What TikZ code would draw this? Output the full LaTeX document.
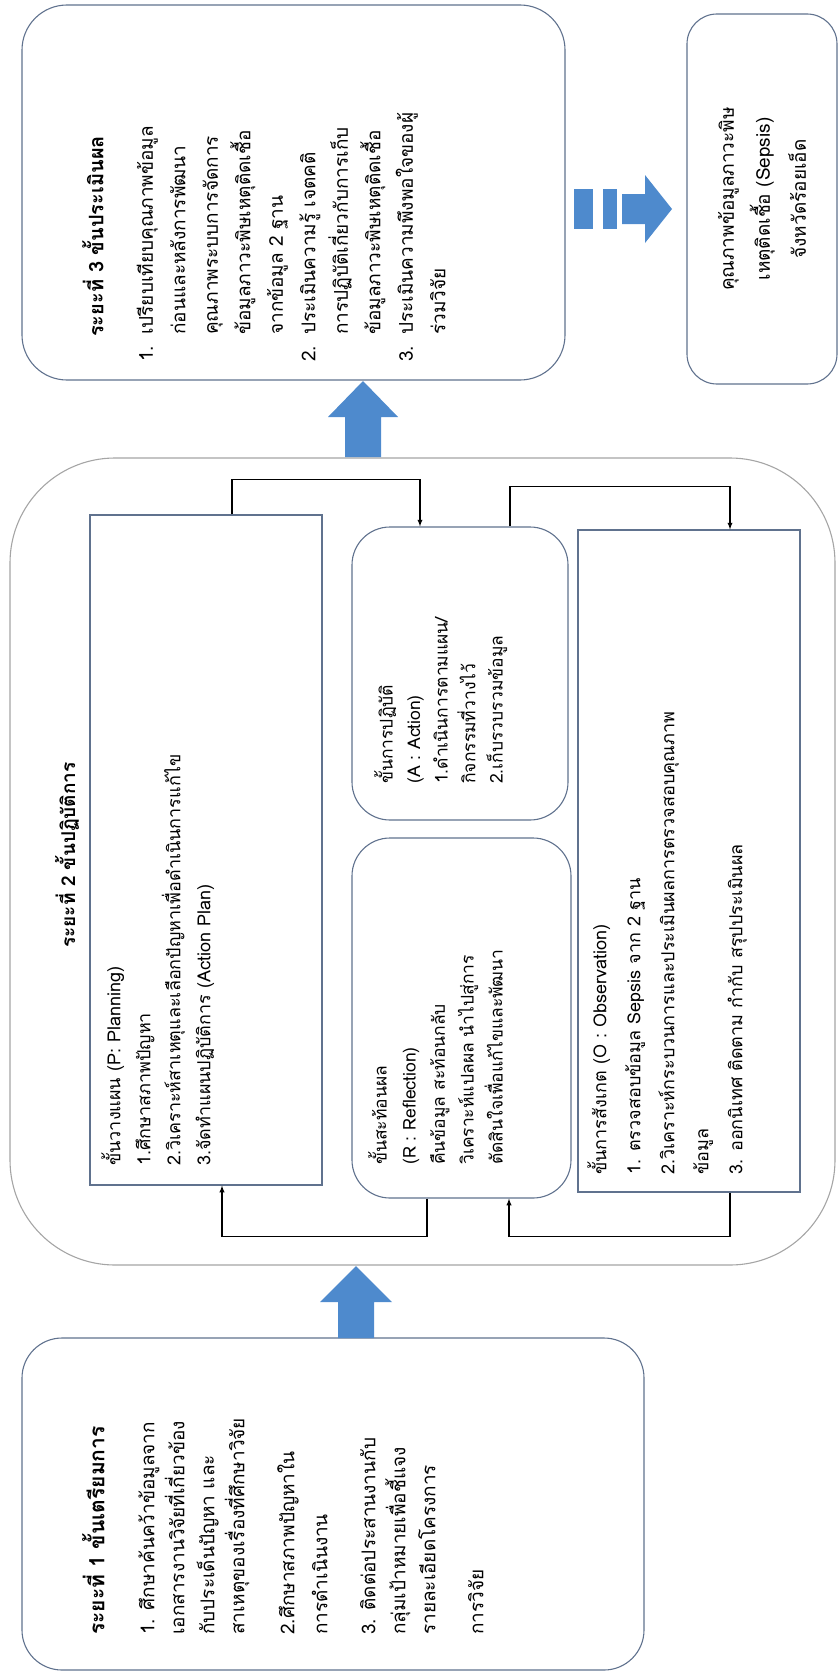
\documentclass[tikz,border=0pt]{standalone}
\usepackage{fontspec}
\setmainfont{Loma}[Script=Thai]
\usepackage{tikz}
\usetikzlibrary{positioning}

\definecolor{edge}{RGB}{96,114,142}
\definecolor{outer}{RGB}{165,165,165}
\definecolor{blockblue}{RGB}{78,138,205}

\begin{document}
\begin{tikzpicture}
        [x=1pt,y=-1pt,>=latex,
        rbox/.style={draw=edge,line width=1.1pt,inner sep=0pt},
        txt/.style={rotate=90,anchor=north west,align=left,inner sep=0pt,
            font=\fontsize{18}{30}\selectfont},
        head/.style={font=\bfseries\fontsize{20}{30}\selectfont},
        link/.style={->,line width=1.3pt,black}]
        \useasboundingbox (0,0) rectangle (840,1675);
        % boxes
        \node[rbox,rounded corners=45pt,minimum width=543pt,minimum height=375pt] (s3) at (293.5,192.5) {};
        \node[rbox,rounded corners=30pt,minimum width=150pt,minimum height=370pt] (out) at (762,199) {};
        \node[rbox,draw=outer,rounded corners=105pt,minimum width=825pt,minimum height=807pt] (s2) at (422.5,861.5) {};
        \node[rbox,minimum width=232pt,minimum height=670pt] (plan) at (206,850) {};
        \node[rbox,rounded corners=38pt,minimum width=216pt,minimum height=293pt] (act) at (460,673.5) {};
        \node[rbox,rounded corners=38pt,minimum width=219pt,minimum height=360pt] (refl) at (461.5,1018) {};
        \node[rbox,minimum width=222pt,minimum height=662pt] (obs) at (689,861) {};
        \node[rbox,rounded corners=40pt,minimum width=622pt,minimum height=332pt] (s1) at (333,1504) {};
        % texts
        \node[txt,font=\fontsize{19}{32.5}\selectfont] (s3t) at (82,362)
            {\hspace*{25pt}{\bfseries\fontsize{20}{30}\selectfont ระยะที่ 3 ขั้นประเมินผล}\\[17pt]
            \makebox[27pt][l]{1.}เปรียบเทียบคุณภาพข้อมูล\\
            \hspace*{27pt}ก่อนและหลังการพัฒนา\\
            \hspace*{27pt}คุณภาพระบบการจัดการ\\
            \hspace*{27pt}ข้อมูลภาวะพิษเหตุติดเชื้อ\\
            \hspace*{27pt}จากข้อมูล 2 ฐาน\\
            \makebox[27pt][l]{2.}ประเมินความรู้ เจตคติ\\
            \hspace*{27pt}การปฏิบัติเกี่ยวกับการเก็บ\\
            \hspace*{27pt}ข้อมูลภาวะพิษเหตุติดเชื้อ\\
            \makebox[27pt][l]{3.}ประเมินความพึงพอใจของผู้\\
            \hspace*{27pt}ร่วมวิจัย};
        \node[txt,anchor=center,align=center,font=\fontsize{19}{36}\selectfont] (outt) at (out.center)
            {คุณภาพข้อมูลภาวะพิษ\\ เหตุติดเชื้อ (Sepsis)\\ จังหวัดร้อยเอ็ด};
        \node[txt,head,anchor=center,font=\bfseries\fontsize{19}{30}\selectfont] (s2t) at (67,855) {ระยะที่ 2 ขั้นปฏิบัติการ};
        \node[txt] (plant) at (101,1166)
            {ขั้นวางแผน (P: Planning)\\
            1.ศึกษาสภาพปัญหา\\
            2.วิเคราะห์สาเหตุและเลือกปัญหาเพื่อดำเนินการแก้ไข\\
            3.จัดทำแผนปฏิบัติการ (Action Plan)};
        \node[txt,font=\fontsize{17.5}{27.5}\selectfont] (actt) at (374,784)
            {ขั้นการปฏิบัติ\\
            (A : Action)\\
            1.ดำเนินการตามแผน/\\
            กิจกรรมที่วางไว้\\
            2.เก็บรวบรวมข้อมูล};
        \node[txt,font=\fontsize{17.5}{29}\selectfont] (reflt) at (368,1165)
            {ขั้นสะท้อนผล\\
            (R : Reflection)\\
            คืนข้อมูล สะท้อนกลับ\\
            วิเคราะห์แปลผล นำไปสู่การ\\
            ตัดสินใจเพื่อแก้ไขและพัฒนา};
        \node[txt,font=\fontsize{18}{34}\selectfont] (obst) at (587,1175)
            {ขั้นการสังเกต (O : Observation)\\
            1. ตรวจสอบข้อมูล Sepsis จาก 2 ฐาน\\
            2.วิเคราะห์กระบวนการและประเมินผลการตรวจสอบคุณภาพ\\
            ข้อมูล\\
            3. ออกนิเทศ ติดตาม กำกับ สรุปประเมินผล};
        \node[txt,font=\fontsize{19}{30}\selectfont] (s1t) at (82,1635)
            {{\bfseries\fontsize{21}{30}\selectfont ระยะที่ 1 ขั้นเตรียมการ}\\[20pt]
            1. ศึกษาค้นคว้าข้อมูลจาก\\
            เอกสารงานวิจัยที่เกี่ยวข้อง\\
            กับประเด็นปัญหา และ\\
            สาเหตุของเรื่องที่ศึกษาวิจัย\\[20pt]
            2.ศึกษาสภาพปัญหาใน\\[3pt]
            การดำเนินงาน\\[18pt]
            3. ติดต่อประสานงานกับ\\
            กลุ่มเป้าหมายเพื่อชี้แจง\\
            รายละเอียดโครงการ\\[18pt]
            การวิจัย};
        % cycle connectors
        \draw[link] ([xshift=26pt]plan.north) -- ++(0,-35) -| ([xshift=-40pt]act.north);
        \draw[link] ([xshift=50pt]act.north) -- ++(0,-40) -| ([xshift=41pt]obs.north);
        \draw[link] ([xshift=41pt]obs.south) -- ++(0,44) -| ([xshift=47.5pt]refl.south);
        \draw[link] ([xshift=-34.5pt]refl.south) -- ++(0,38) -| ([xshift=16pt]plan.south);
        % block arrows
        \fill[blockblue] (345,457) -- (345,417) -- (328,417) -- (363,381) -- (398,417) -- (381,417) -- (381,457) -- cycle;
        \fill[blockblue] (338,1338) -- (338,1302) -- (320,1302) -- (356,1266) -- (392,1302) -- (374,1302) -- (374,1338) -- cycle;
        \fill[blockblue] (574,189) rectangle (593,229);
        \fill[blockblue] (603,189) rectangle (617,229);
        \fill[blockblue] (622,194) -- (645,194) -- (645,175) -- (672,209) -- (645,243) -- (645,224) -- (622,224) -- cycle;
\end{tikzpicture}
\end{document}
